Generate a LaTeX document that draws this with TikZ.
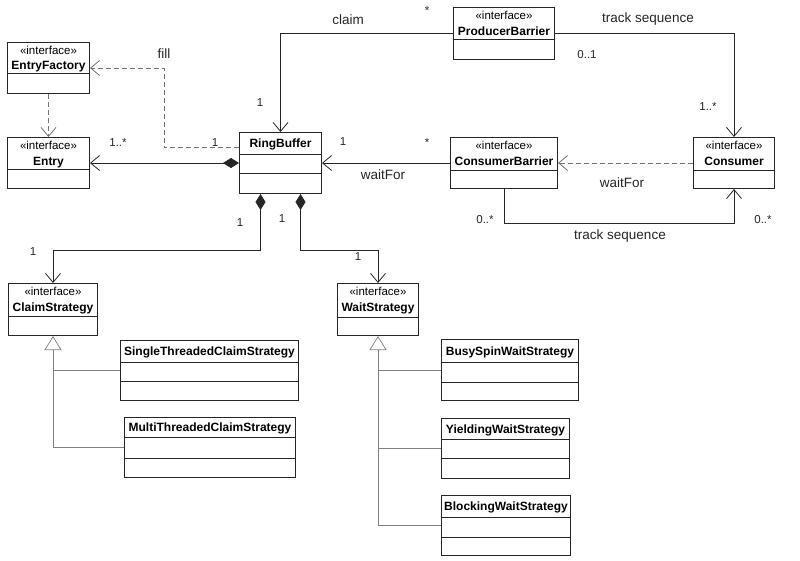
\documentclass[tikz,border=0pt]{standalone}
\usepackage{fontspec}
\setmainfont{Liberation Sans}
\usetikzlibrary{arrows.meta}

\tikzset{
  cls/.style={draw=black!85, line width=1pt, anchor=north west, inner sep=0pt},
  sep/.style={draw=black!85, line width=1pt},
  nm/.style={font=\fontsize{12}{13}\selectfont\bfseries, anchor=base, inner sep=0pt},
  stereo/.style={font=\fontsize{11.5}{12}\selectfont, anchor=base, inner sep=0pt},
  lbl/.style={font=\fontsize{13.5}{15}\selectfont, text=black!85, inner sep=0pt},
  mult/.style={font=\fontsize{11.5}{13}\selectfont, text=black!85, inner sep=0pt},
  assoc/.style={draw=black!85, line width=0.8pt, -{Straight Barb[length=9pt,width=15pt]}},
  comp/.style={draw=black!85, line width=0.8pt, {Diamond[length=16pt,width=10pt]}-{Straight Barb[length=9pt,width=15pt]}},
  dep/.style={draw=black!55, line width=0.8pt, dash pattern=on 5pt off 3pt, -{Straight Barb[length=9pt,width=15pt]}},
  gen/.style={draw=black!50, line width=0.7pt, -{Triangle[open,length=14pt,width=17pt]}},
  genln/.style={draw=black!50, line width=0.7pt}
}

\begin{document}
\begin{tikzpicture}[x=1pt, y=-1pt]

    \fill[white] (0,0) rectangle (800,560);
    \useasboundingbox (0,0) rectangle (800,560);

    % interfaces on the left
    \node[cls, minimum width=82, minimum height=51] (ef) at (7,42) {};
    \draw[sep] ([yshift=-31]ef.north west) -- ([yshift=-31]ef.north east);
    \node[stereo] at ([yshift=-12]ef.north) {«interface»};
    \node[nm] at ([yshift=-27]ef.north) {EntryFactory};

    \node[cls, minimum width=82, minimum height=51] (entry) at (7,137) {};
    \draw[sep] ([yshift=-32]entry.north west) -- ([yshift=-32]entry.north east);
    \node[stereo] at ([yshift=-12]entry.north) {«interface»};
    \node[nm] at ([yshift=-28]entry.north) {Entry};

    % the ring buffer
    \node[cls, minimum width=82, minimum height=61] (ring) at (239,132) {};
    \draw[sep] ([yshift=-22]ring.north west) -- ([yshift=-22]ring.north east);
    \draw[sep] ([yshift=-41]ring.north west) -- ([yshift=-41]ring.north east);
    \node[nm] at ([yshift=-15]ring.north) {RingBuffer};

    % barriers and consumer
    \node[cls, minimum width=101, minimum height=52] (pb) at (453,7) {};
    \draw[sep] ([yshift=-32]pb.north west) -- ([yshift=-32]pb.north east);
    \node[stereo] at ([yshift=-12]pb.north) {«interface»};
    \node[nm] at ([yshift=-28]pb.north) {ProducerBarrier};

    \node[cls, minimum width=107, minimum height=51] (cb) at (450,137) {};
    \draw[sep] ([yshift=-33]cb.north west) -- ([yshift=-33]cb.north east);
    \node[stereo] at ([yshift=-12]cb.north) {«interface»};
    \node[nm] at ([yshift=-28]cb.north) {ConsumerBarrier};

    \node[cls, minimum width=81, minimum height=51] (cons) at (693,137) {};
    \draw[sep] ([yshift=-33]cons.north west) -- ([yshift=-33]cons.north east);
    \node[stereo] at ([yshift=-12]cons.north) {«interface»};
    \node[nm] at ([yshift=-28]cons.north) {Consumer};

    % strategies
    \node[cls, minimum width=89, minimum height=52] (cs) at (8,283) {};
    \draw[sep] ([yshift=-33]cs.north west) -- ([yshift=-33]cs.north east);
    \node[stereo] at ([yshift=-12]cs.north) {«interface»};
    \node[nm] at ([yshift=-28]cs.north) {ClaimStrategy};

    \node[cls, minimum width=81, minimum height=52] (ws) at (337,283) {};
    \draw[sep] ([yshift=-34]ws.north west) -- ([yshift=-34]ws.north east);
    \node[stereo] at ([yshift=-12]ws.north) {«interface»};
    \node[nm] at ([yshift=-28]ws.north) {WaitStrategy};

    \node[cls, minimum width=178, minimum height=60] (single) at (120,340) {};
    \draw[sep] ([yshift=-22]single.north west) -- ([yshift=-22]single.north east);
    \draw[sep] ([yshift=-41]single.north west) -- ([yshift=-41]single.north east);
    \node[nm] at ([yshift=-15]single.north) {SingleThreadedClaimStrategy};

    \node[cls, minimum width=171, minimum height=60] (multi) at (124,417) {};
    \draw[sep] ([yshift=-20]multi.north west) -- ([yshift=-20]multi.north east);
    \draw[sep] ([yshift=-41]multi.north west) -- ([yshift=-41]multi.north east);
    \node[nm] at ([yshift=-14]multi.north) {MultiThreadedClaimStrategy};

    \node[cls, minimum width=137, minimum height=61] (busy) at (441,339) {};
    \draw[sep] ([yshift=-23]busy.north west) -- ([yshift=-23]busy.north east);
    \draw[sep] ([yshift=-43]busy.north west) -- ([yshift=-43]busy.north east);
    \node[nm] at ([yshift=-16]busy.north) {BusySpinWaitStrategy};

    \node[cls, minimum width=128, minimum height=60] (yield) at (441,418) {};
    \draw[sep] ([yshift=-21]yield.north west) -- ([yshift=-21]yield.north east);
    \draw[sep] ([yshift=-40]yield.north west) -- ([yshift=-40]yield.north east);
    \node[nm] at ([yshift=-15]yield.north) {YieldingWaitStrategy};

    \node[cls, minimum width=129, minimum height=60] (block) at (441,495) {};
    \draw[sep] ([yshift=-22]block.north west) -- ([yshift=-22]block.north east);
    \draw[sep] ([yshift=-42]block.north west) -- ([yshift=-42]block.north east);
    \node[nm] at ([yshift=-15]block.north) {BlockingWaitStrategy};

    % associations
    \draw[dep] (ef.south) -- (entry.north);
    \draw[dep] ([yshift=15.5]ring.west) -- ++(-75,0) |- (ef.east);
    \draw[comp] (ring.west) -- (ring.west -| entry.east);
    \draw[assoc] (pb.west) -| (ring.north);
    \draw[assoc] (cb.west) -- (cb.west -| ring.east);
    \draw[assoc] (pb.east) -| (cons.north);
    \draw[dep] (cons.west) -- (cons.west -| cb.east);
    \draw[assoc] (cb.south) -- ++(0,34) -| (cons.south);
    \draw[comp] ([xshift=-20]ring.south) -- ++(0,56) -| (cs.north);
    \draw[comp] ([xshift=20]ring.south) -- ++(0,56) -| (ws.north);

    % generalisations
    \draw[gen] (multi.west) -| (cs.south);
    \draw[genln] (single.west) -- (single.west -| cs.south);
    \draw[gen] (block.west) -| (ws.south);
    \draw[genln] (busy.west) -- (busy.west -| ws.south);
    \draw[genln] (yield.west) -- (yield.west -| ws.south);

    % labels
    \node[lbl] at (164,54) {fill};
    \node[mult] at (215,143) {1};
    \node[mult] at (118,143) {1..*};
    \node[lbl] at (348,20) {claim};
    \node[mult] at (427,11) {*};
    \node[mult] at (260,103) {1};
    \node[mult] at (343,142) {1};
    \node[mult] at (427,143) {*};
    \node[lbl] at (383,175) {waitFor};
    \node[lbl] at (622,183) {waitFor};
    \node[mult] at (485,220) {0..*};
    \node[mult] at (763,220) {0..*};
    \node[lbl] at (620,236) {track sequence};
    \node[lbl] at (648,19) {track sequence};
    \node[mult] at (587,55) {0..1};
    \node[mult] at (708,107) {1..*};
    \node[mult] at (240,223) {1};
    \node[mult] at (282,219) {1};
    \node[mult] at (33,252) {1};
    \node[mult] at (358,257) {1};

\end{tikzpicture}
\end{document}
